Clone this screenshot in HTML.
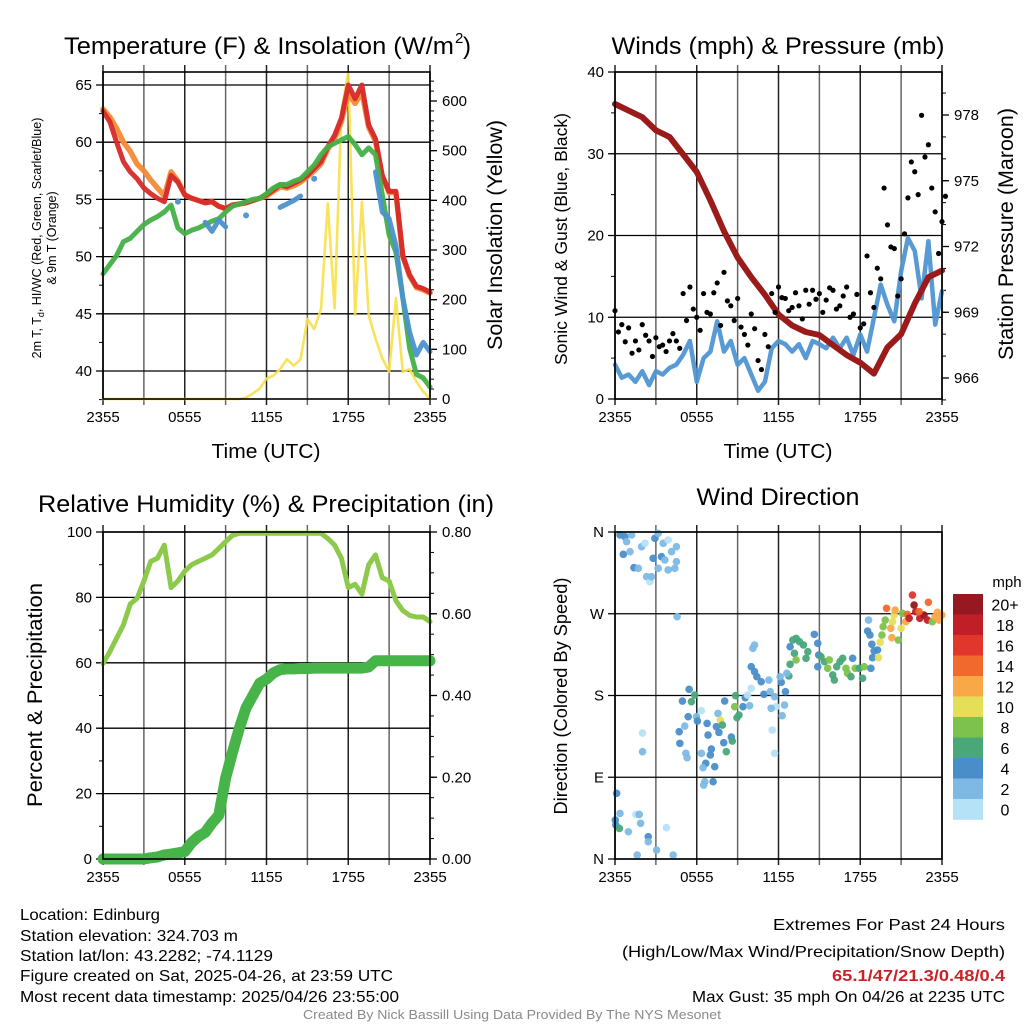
<!DOCTYPE html>
<html><head><meta charset="utf-8"><style>
html,body{margin:0;padding:0;background:#fff;}
svg{display:block;font-family:"Liberation Sans",Arial,sans-serif;}
</style></head><body>
<svg id="fig" width="1024" height="1024" viewBox="0 0 1024 1024" xmlns="http://www.w3.org/2000/svg"></svg>
<script>
// ---------- DATA (30-minute samples, hours 0..24 from 2355 UTC) ----------
const xTickLabels = ["2355","0555","1155","1755","2355"];
const tempRed = [62.7,61.8,60.0,58.3,57.4,56.8,56.0,55.5,55.1,54.8,57.1,56.5,55.4,55.1,54.9,54.7,54.8,54.4,54.2,54.5,54.6,54.7,54.9,55.1,55.4,55.8,56.3,56.1,56.4,56.7,57.1,57.7,58.3,59.6,60.6,62.1,65.0,63.8,65.0,61.5,60.3,57.1,55.7,55.7,50.1,48.4,47.4,47.2,46.9];
const temp9m = [62.9,62.2,61.2,60.0,59.2,58.1,57.5,56.7,56.0,55.3,57.4,56.6,55.4,55.1,54.9,54.7,54.8,54.4,54.2,54.5,54.6,54.7,54.9,55.1,55.3,55.7,56.1,56.0,56.2,56.5,57.0,57.5,58.1,59.4,60.3,61.8,64.3,63.4,64.4,61.3,60.1,57.0,55.6,55.6,50.0,48.3,47.3,47.1,46.8];
const dewGreen = [48.5,49.3,50.1,51.3,51.6,52.2,52.8,53.2,53.5,53.9,54.5,52.5,52.0,52.3,52.5,52.8,53.1,53.3,53.9,54.4,54.6,54.8,55.0,55.1,55.5,56.0,56.3,56.3,56.6,56.8,57.4,58.0,58.9,59.6,59.9,60.2,60.5,59.8,58.9,59.5,58.9,55.4,51.9,50.4,46.4,42.0,39.7,39.4,38.6];
const hiwcBlue = [null,null,null,null,null,null,null,null,null,null,null,54.8,null,null,null,53.0,52.2,53.2,52.6,null,null,53.6,null,null,null,null,54.3,54.6,54.9,55.3,null,56.8,null,null,null,null,null,null,null,null,57.4,53.9,53.3,51.0,46.4,43.4,41.4,42.5,41.7];
const insolation = [0,0,0,0,0,0,0,0,0,0,0,0,0,0,0,0,0,0,0,0,0,3,11,21,41,47,60,80,67,80,161,141,181,394,182,578,659,169,397,169,122,82,55,203,55,60,35,15,1];
const windSpeed = [4.2,2.6,3.0,2.1,3.4,1.7,3.4,3.0,3.8,4.2,5.4,7.1,2.1,5.0,5.8,9.5,5.8,7.1,4.2,5.0,3.0,1.0,2.1,6.2,7.1,6.7,5.8,6.7,5.0,7.1,6.7,6.2,7.5,6.2,7.5,5.4,7.9,5.8,9.9,14.0,11.5,9.5,15.6,19.7,18.1,12.3,19.3,9.1,13.2];
const gustA = [10.8,9.1,8.7,7.1,9.1,7.1,7.5,6.6,7.1,7.1,12.9,13.7,10.0,12.9,10.4,14.2,15.5,11.4,12.3,7.9,10.4,4.7,7.9,12.9,13.7,12.3,11.2,11.4,13.3,13.3,12.9,12.1,13.3,11.4,13.7,10.4,8.7,17.5,11.2,14.7,21.3,18.4,14.7,24.6,27.8,34.7,31.1,22.9,21.7];
const gustB = [8.2,7.0,5.6,6.0,7.8,5.2,6.4,5.8,8.0,6.2,9.6,11.0,8.4,10.6,13.0,9.0,12.0,9.6,8.8,6.6,8.6,3.6,6.4,10.6,12.4,10.8,13.0,9.8,11.6,12.2,10.6,13.6,11.0,12.6,10.0,12.8,9.2,13.0,16.0,25.8,18.6,12.6,20.2,29.0,25.0,29.6,25.8,17.8,24.8];
const pressureHourly = [978.5,978.2,977.9,977.3,977.0,976.2,975.4,974.1,972.7,971.5,970.6,969.8,968.9,968.4,968.1,967.96,967.5,967.05,966.7,966.2,967.4,968.0,969.4,970.6,970.9];
const rh = [59.8,63.4,67.5,71.6,78,79.7,85,91,92,96,83,85,88,90,91,92,93,95,97,99,100,100,100,100,100,100,100,100,100,100,100,100,100,98,96,92,83,84,81,90,93,86,85,79,76,74.5,74,74,72.6];
const precip = [0,0,0,0,0,0,0,0.003,0.005,0.01,0.012,0.015,0.018,0.04,0.055,0.065,0.088,0.107,0.198,0.26,0.32,0.37,0.40,0.43,0.44,0.455,0.463,0.465,0.465,0.466,0.466,0.467,0.467,0.467,0.467,0.467,0.467,0.467,0.467,0.47,0.485,0.485,0.485,0.485,0.485,0.485,0.485,0.485,0.485];
const dirHours = [0.37,0.73,1.22,0.85,0.61,1.10,1.39,1.71,1.95,2.2,2.32,2.56,2.68,2.8,2.93,3.17,3.17,3.41,3.54,3.66,3.9,3.9,4.15,4.39,4.51,4.51,4.56,
0.12,0.02,0.06,0.32,0.37,0.98,1.54,1.78,1.88,2.44,2.44,1.63,3.05,3.78,4.27,2.02,2.02,
4.95,5.44,5.61,5.85,5.37,5.12,4.71,4.76,5.2,5.29,5.98,6.05,6.34,6.34,6.76,6.83,7.0,6.66,6.46,6.59,6.51,7.2,7.32,7.07,7.44,7.56,7.73,7.88,7.63,8.05,7.98,8.17,8.54,8.61,8.78,8.85,8.95,9.1,9.39,9.56,9.88,10.0,9.73,10.12,10.24,10.0,10.24,10.41,10.73,10.93,11.29,11.39,11.71,11.83,11.46,11.54,11.71,12.2,12.12,12.51,12.44,12.27,12.76,12.61,
12.85,13.05,13.29,13.54,13.17,13.29,12.85,13.83,14.15,14.02,14.63,14.88,14.95,14.88,15.12,15.37,15.61,15.73,15.98,16.1,16.27,16.51,16.71,16.95,17.07,17.44,17.32,17.63,17.93,18.17,18.29,18.78,
18.61,18.54,18.71,18.85,19.02,18.9,19.27,19.34,19.46,19.59,19.68,19.83,19.93,20.24,20.32,20.37,20.49,20.56,20.8,21.0,21.1,21.34,21.46,21.83,21.95,22.07,22.37,22.68,22.93,23.0,23.29,23.49,23.66,23.78,23.98,22.32,21.59];
const dirDegrees = [356.7,354.9,356.7,349.4,335.4,338.3,320.7,320,343.8,347.5,310.8,305.3,310.8,331,353,358.5,320,332.8,347.5,329.2,351.2,318.2,338.3,320,343.8,327.3,266.8,
72.3,42.9,37.4,33.7,50.2,30,49.1,49.1,39.3,24.6,19,4.4,9.9,34.5,4.4,138.7,118.1,
173.9,186.8,173.2,180.5,156.7,146.4,140.2,127.3,116.3,111.5,156.7,151.9,163.3,116.3,149.3,136.5,114.5,105.3,100.5,85.1,81.4,85.1,101.6,121.1,145.7,160.3,153,147.5,139.4,173.9,128.1,118.1,134.3,129.9,167.7,179.8,155.6,158.5,167.7,177.6,168.8,187.9,180.5,231.9,235.6,211.7,206.2,200.7,195.2,181.3,197,184.2,178.7,167.7,165.9,142,116.3,194.5,200.7,184.2,169.5,157.8,201.5,204.4,
233.7,241.1,242.9,239.3,226.4,219.1,214.3,235.6,228.2,220.9,247.3,237.4,224.6,211.7,222.7,217.2,209.9,219.1,202.6,197,211.7,217.2,220.9,209.9,204.4,220.9,200.7,209.9,209.9,198.9,211.7,209.9,
263.1,251,246.6,236.3,229,221.6,230.1,221.6,238.5,246.6,255.8,263.1,276,254,243.7,261.3,268.6,274.1,241.1,254,270.5,261.3,269.3,290.6,279.6,272.3,265,268.6,263.1,282.6,261.3,266.8,271.6,263.1,268.6,272.3,265];
const dirSpeeds = [4,4,2,3,4,2,4,2,2,1,2,1,2,4,4,2,3,4,2,2,1,2,2,2,2,2,2,
4,4,4,6,2,2,1,2,2,4,2,2,2,1,2,1,2,
4,4,6,6,4,2,4,4,2,2,2,4,1,2,4,4,4,4,2,2,2,4,4,4,4,2,10,6,4,4,4,6,4,6,8,6,6,6,4,4,2,1,1,2,2,4,4,4,4,4,2,2,2,1,2,1,1,4,2,4,2,2,6,2,
4,6,6,6,6,8,6,6,6,6,4,4,4,4,6,6,8,8,6,6,6,6,6,8,8,4,6,8,6,6,8,4,
2,4,4,4,4,4,4,10,10,8,8,8,14,12,12,10,10,12,8,10,8,12,14,16,20,18,18,20,18,14,8,12,12,12,12,14,18];
const speedLabels = ["0","2","4","6","8","10","12","14","16","18","20+"];
const speedColors = ["#b6e2f7","#7db9e4","#4a8ec9","#4aa77a","#7dc24d","#e5df58","#f9a848","#f2692d","#e0362b","#c01f28","#961820"];

// ---------- helpers ----------
const NS="http://www.w3.org/2000/svg";
const svg=document.getElementById('fig');
function mk(tag,attrs,parent){const e=document.createElementNS(NS,tag);for(const k in attrs)e.setAttribute(k,attrs[k]);(parent||svg).appendChild(e);return e;}
function txt(s,x,y,size,anchor,parent,extra){const e=mk('text',Object.assign({x:x,y:y,'font-size':size,'text-anchor':anchor||'middle',fill:'#000'},extra||{}),parent);e.textContent=s;return e;}
function lin(a,b,c,d){return (v)=>c+(v-a)*(d-c)/(b-a);}
const TL={lengthAdjust:'spacingAndGlyphs'};
function tl(n){return Object.assign({textLength:n},TL);}

function panel(x0,x1,y0,y1,name){
  const g=mk('g',{});
  
  
  const xs=lin(0,24,x0,x1);
  for(let h=0;h<=24;h+=3){const x=xs(h);mk('line',{x1:x,x2:x,y1:y0-7,y2:y1+6,stroke:(h%6==0)?'#222':'#666','stroke-width':1.5},g);}
  return {g,xs};
}
function polyline(g,xs,ys,vals,step,col,w,op,name){
  let segs=[],cur=[];
  vals.forEach((v,i)=>{if(v===null||v===undefined){if(cur.length)segs.push(cur);cur=[];}else cur.push([xs(i*step),ys(v)]);});
  if(cur.length)segs.push(cur);
  segs.forEach(s=>{
    if(s.length==1){const c=mk('circle',{cx:s[0][0],cy:s[0][1],r:w/2+0.5,fill:col,opacity:op},g);
      
      }
    else{const p=mk('polyline',{points:s.map(q=>q[0].toFixed(1)+','+q[1].toFixed(1)).join(' '),fill:'none',stroke:col,'stroke-width':w,'stroke-linejoin':'round','stroke-linecap':'round',opacity:op},g);
      
      }
  });
}
function xAxis(g,xs,y1){
  xTickLabels.forEach((l,i)=>{const x=xs(i*6);const t=txt(l,x,y1+23,15,'middle',g);
    
    });
}
function frame(g,x0,x1,y0,y1){mk('rect',{x:x0,y:y0,width:x1-x0,height:y1-y0,fill:'none',stroke:'#000','stroke-width':1.6},g);}
function hgrid(g,x0,x1,ys,vals){vals.forEach(v=>{const y=ys(v);mk('line',{x1:x0-7,x2:x1,y1:y,y2:y,stroke:'#000','stroke-width':1.3},g);});}
function ticksLeft(g,x0,ys,minor){minor.forEach(v=>{const y=ys(v);mk('line',{x1:x0-4,x2:x0,y1:y,y2:y,stroke:'#000','stroke-width':1},g);});}
function ticksRight(g,x1,ys,major,minor,labels,fmt){
  minor.forEach(v=>{const y=ys(v);mk('line',{x1:x1,x2:x1+4,y1:y,y2:y,stroke:'#000','stroke-width':1},g);});
  major.forEach(v=>{const y=ys(v);mk('line',{x1:x1,x2:x1+7,y1:y,y2:y,stroke:'#000','stroke-width':1.3},g);
    const t=txt(fmt(v),x1+12,y+5,15,'start',g);
    
    });
}
function leftLabels(g,x0,ys,vals,fmt){vals.forEach(v=>{const t=txt(fmt(v),x0-11,ys(v)+5,15,'end',g);
  
  });}
function range(a,b,s){const r=[];for(let v=a;v<=b+1e-9;v+=s)r.push(+v.toFixed(4));return r;}

// ---------- Panel 1: Temperature ----------
(function(){
  const x0=103,x1=430,y0=72,y1=399;
  const {g,xs}=panel(x0,x1,y0,y1,'temperature-panel');
  const ys=lin(65,40,85,371);
  const yr=lin(0,600,399,101);
  hgrid(g,x0,x1,ys,[40,45,50,55,60,65]);
  ticksLeft(g,x0,ys,range(37.5,65,2.5));
  leftLabels(g,x0,ys,[40,45,50,55,60,65],v=>v);
  ticksRight(g,x1,yr,[0,100,200,300,400,500,600],range(0,640,20),null,v=>v);
  const cp=mk('clipPath',{id:'c1'});mk('rect',{x:x0-3,y:y0,width:x1-x0+6,height:y1-y0+2},cp);
  const cs=mk('g',{'clip-path':'url(#c1)'},g);
  polyline(cs,xs,yr,insolation,0.5,'#f8df4a',2.6,0.9,'insolation-line');
  polyline(cs,xs,ys,temp9m,0.5,'#f58a35',5.5,0.95,'temp-9m-line');
  polyline(cs,xs,ys,tempRed,0.5,'#d62a2a',5,0.95,'temp-2m-line');
  polyline(cs,xs,ys,dewGreen,0.5,'#45b046',5,0.95,'dewpoint-line');
  polyline(cs,xs,ys,hiwcBlue,0.5,'#4b92cc',5,0.95,'heat-index-wind-chill-line');
  frame(g,x0,x1,y0,y1);
  xAxis(g,xs,y1);
  const tt=txt('Temperature (F) & Insolation (W/m',64,54,24,'start',g,tl(390));
  
  const ts=txt('2',455,43,15,'start',g);
  const tc=txt(')',463,54,24,'start',g);
  const xl=txt('Time (UTC)',266,458,20.5,'middle',g,tl(109));
  const yl=mk('text',{transform:'translate(41,238) rotate(-90)','font-size':12.5,'text-anchor':'middle'},g);
  
  yl.innerHTML='2m T, T<tspan font-size="9" dy="3">d</tspan><tspan dy="-3">, HI/WC (Red, Green, Scarlet/Blue)</tspan>';
  const yl2=txt('& 9m T (Orange)',0,0,12.5,'middle',g,{transform:'translate(56,238) rotate(-90)'});
  
  const yr2=txt('Solar Insolation (Yellow)',0,0,21,'middle',g,Object.assign({transform:'translate(502,235) rotate(-90)'},tl(230)));
  
})();

// ---------- Panel 2: Winds ----------
(function(){
  const x0=615,x1=942,y0=72,y1=399;
  const {g,xs}=panel(x0,x1,y0,y1,'winds-panel');
  const ys=lin(0,40,399,72);
  const yp=lin(966,978,378,115);
  hgrid(g,x0,x1,ys,[0,10,20,30,40]);
  ticksLeft(g,x0,ys,range(0,40,5));
  leftLabels(g,x0,ys,[0,10,20,30,40],v=>v);
  ticksRight(g,x1,yp,[966,969,972,975,978],range(965,979,1),null,v=>v);
  polyline(g,xs,ys,windSpeed,0.5,'#4f95d1',4.5,0.95,'sonic-wind-line');
  polyline(g,xs,yp,pressureHourly,1,'#9b1b1b',6,1,'pressure-line');
  gustA.forEach((v,i)=>{const c=mk('circle',{cx:xs(i*0.5),cy:ys(v),r:2.6,fill:'#000'},g);
    });
  gustB.forEach((v,i)=>{const c=mk('circle',{cx:xs(i*0.5+0.25),cy:ys(v),r:2.6,fill:'#000'},g);
    });
  frame(g,x0,x1,y0,y1);
  xAxis(g,xs,y1);
  const tt=txt('Winds (mph) & Pressure (mb)',778,54,24,'middle',g,tl(333));
  const xl=txt('Time (UTC)',778,458,20.5,'middle',g,tl(109));
  const yl=txt('Sonic Wind & Gust (Blue, Black)',0,0,17.5,'middle',g,Object.assign({transform:'translate(567,239) rotate(-90)'},tl(252)));
  
  const yr2=txt('Station Pressure (Maroon)',0,0,21,'middle',g,Object.assign({transform:'translate(1013,234) rotate(-90)'},tl(252)));
  
})();

// ---------- Panel 3: RH & Precip ----------
(function(){
  const x0=103,x1=430,y0=532,y1=859;
  const {g,xs}=panel(x0,x1,y0,y1,'humidity-precip-panel');
  const ys=lin(0,100,859,532);
  const yr=lin(0,0.8,859,532);
  hgrid(g,x0,x1,ys,[0,20,40,60,80,100]);
  ticksLeft(g,x0,ys,range(0,100,10));
  leftLabels(g,x0,ys,[0,20,40,60,80,100],v=>v);
  ticksRight(g,x1,yr,[0,0.2,0.4,0.6,0.8],range(0,0.8,0.05),null,v=>v.toFixed(2));
  polyline(g,xs,ys,rh.map(v=>Math.min(v,99.6)),0.5,'#8dc94b',5,1,'relative-humidity-line');
  polyline(g,xs,yr,precip,0.5,'#47b449',11,1,'precipitation-line');
  frame(g,x0,x1,y0,y1);
  xAxis(g,xs,y1);
  const tt=txt('Relative Humidity (%) & Precipitation (in)',266,512,24,'middle',g,tl(456));
  const yl=txt('Percent & Precipitation',0,0,21,'middle',g,Object.assign({transform:'translate(42,695) rotate(-90)'},tl(224)));
  
})();

// ---------- Panel 4: Wind direction ----------
(function(){
  const x0=615,x1=942,y0=532,y1=859;
  const {g,xs}=panel(x0,x1,y0,y1,'wind-direction-panel');
  const ys=lin(0,360,859,532);
  hgrid(g,x0,x1,ys,[0,90,180,270,360]);
  const lab={0:'N',90:'E',180:'S',270:'W',360:'N'};
  [0,90,180,270,360].forEach(v=>{const t=txt(lab[v],x0-11,ys(v)+5,15,'end',g);
    });
  dirHours.forEach((h,i)=>{const s=dirSpeeds[i];const b=Math.min(10,Math.floor(s/2));
    const c=mk('circle',{cx:xs(h),cy:ys(dirDegrees[i]),r:3.8,fill:speedColors[b],opacity:0.95},g);
    
    });
  frame(g,x0,x1,y0,y1);
  xAxis(g,xs,y1);
  const tt=txt('Wind Direction',778,505,24,'middle',g,tl(163));
  const yl=txt('Direction (Colored By Speed)',0,0,18,'middle',g,Object.assign({transform:'translate(567,696) rotate(-90)'},tl(237)));
  
  const cb=mk('g',{},g);
  const top=594,bh=20.5;
  for(let i=10;i>=0;i--){const y=top+(10-i)*bh;
    const r=mk('rect',{x:953,y:y,width:30,height:bh+0.3,fill:speedColors[i]},cb);
    
    const t=txt(speedLabels[i],1005,y+bh/2+6,16,'middle',cb);
    }
  const u=txt('mph',1007,587,15,'middle',cb);
})();

// ---------- Footer text ----------
(function(){
  const g=mk('g',{});
  const left=[['Location: Edinburg',920,140],['Station elevation: 324.703 m',941,218],['Station lat/lon: 43.2282; -74.1129',961,253],['Figure created on Sat, 2025-04-26, at 23:59 UTC',981,373],['Most recent data timestamp: 2025/04/26 23:55:00',1002,379]];
  left.forEach(l=>{const t=txt(l[0],20,l[1],16,'start',g,tl(l[2]));
    });
  const g2=mk('g',{});
  const right=[['Extremes For Past 24 Hours',930,232,'#000','normal'],['(High/Low/Max Wind/Precipitation/Snow Depth)',957,383,'#000','normal'],['65.1/47/21.3/0.48/0.4',981,173,'#cc2127','bold'],['Max Gust: 35 mph On 04/26 at 2235 UTC',1002,313,'#000','normal']];
  right.forEach(l=>{const t=txt(l[0],1005,l[1],16,'end',g2,Object.assign({fill:l[3],'font-weight':l[4]},tl(l[2])));
    });
  const c=txt('Created By Nick Bassill Using Data Provided By The NYS Mesonet',512,1019,12.5,'middle',svg,Object.assign({fill:'#8a8a8a'},tl(418)));
  
})();
</script>
</body></html>
